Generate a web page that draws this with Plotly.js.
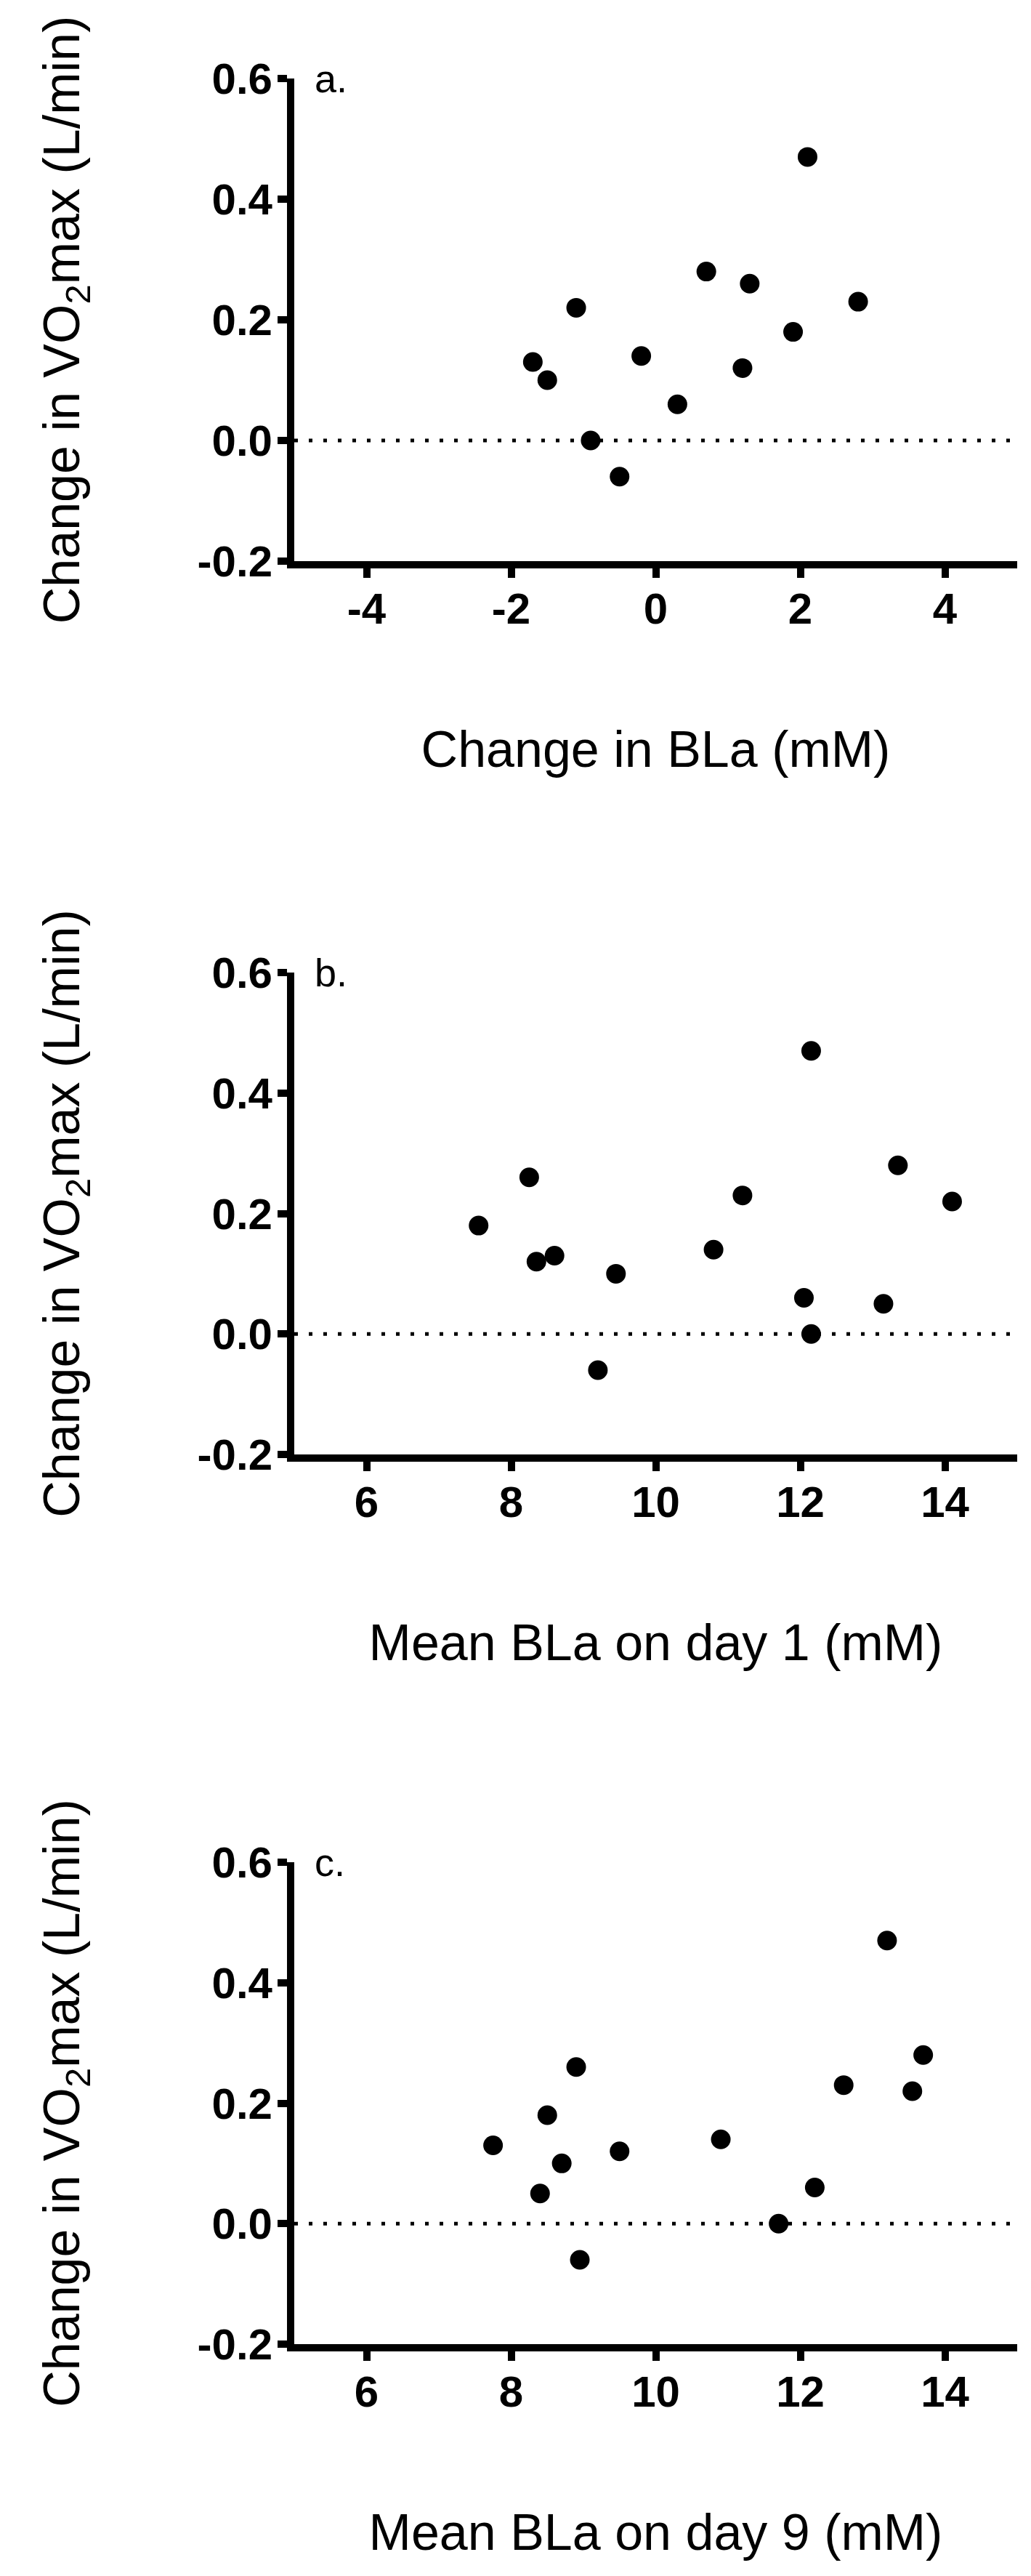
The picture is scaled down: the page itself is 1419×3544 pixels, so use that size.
<!DOCTYPE html>
<html>
<head>
<meta charset="utf-8">
<script src="https://cdn.plot.ly/plotly-3.0.1.min.js"></script>
<style>
    html, body { margin: 0; padding: 0; background: #ffffff; }
    #blac-plot { width: 1419px; height: 3544px; }
</style>
</head>
<body>
<div id="blac-plot"></div>
<script>
// ------------------------------------------------------------------------------
// DATA

// a. change in VO2max vs change in BLa
const a_change_bla = [-1.7, -1.5, -1.1, -0.9, -0.5, -0.2, 0.3, 0.7, 1.2, 1.3, 1.9, 2.1, 2.8];
const a_change_vo2 = [0.13, 0.10, 0.22, 0.00, -0.06, 0.14, 0.06, 0.28, 0.12, 0.26, 0.18, 0.47, 0.23];

// b. change in VO2max vs mean BLa on day 1
const b_mean_bla_d1 = [7.55, 8.25, 8.35, 8.6, 9.2, 9.45, 10.8, 11.2, 12.05, 12.15, 12.15, 13.15, 13.35, 14.1];
const b_change_vo2  = [0.18, 0.26, 0.12, 0.13, -0.06, 0.10, 0.14, 0.23, 0.06, 0.47, 0.00, 0.05, 0.28, 0.22];

// c. change in VO2max vs mean BLa on day 9
const c_mean_bla_d9 = [7.75, 8.4, 8.5, 8.7, 8.9, 8.95, 9.5, 10.9, 11.7, 12.2, 12.6, 13.2, 13.55, 13.7];
const c_change_vo2  = [0.13, 0.05, 0.18, 0.10, 0.26, -0.06, 0.12, 0.14, 0.00, 0.06, 0.23, 0.47, 0.22, 0.28];

const panel_letters = ['a.', 'b.', 'c.'];
const x_titles      = ['Change in BLa (mM)', 'Mean BLa on day 1 (mM)', 'Mean BLa on day 9 (mM)'];
const y_title       = 'Change in VO<sub>2</sub>max (L/min)';
const x_ranges      = [[-5, 5], [5, 15], [5, 15]];
const x_ticks       = [[-4, -2, 0, 2, 4], [6, 8, 10, 12, 14], [6, 8, 10, 12, 14]];
const x_ticklabels  = [['-4', '-2', '0', '2', '4'], ['6', '8', '10', '12', '14'], ['6', '8', '10', '12', '14']];
const y_ticks       = [-0.2, 0.0, 0.2, 0.4, 0.6];
const y_ticklabels  = ['-0.2', '0.0', '0.2', '0.4', '0.6'];


// ------------------------------------------------------------------------------
// STYLE

const font_family = '"Liberation Sans", Arial, Helvetica, sans-serif';
const x_domain    = [405 / 1419, 1400 / 1419];
const y_domains   = [
    [0.78217, 0.96953],
    [0.43538, 0.62246],
    [0.09001, 0.27709],
];

const displayConfig = {
    displayModeBar: false,
    responsive: false
};

function makeXAxis(i) {
    return {
        domain: x_domain,
        anchor: i === 0 ? 'y' : 'y' + (i + 1),
        range: x_ranges[i],
        tickmode: 'array',
        tickvals: x_ticks[i],
        ticktext: x_ticklabels[i],
        showgrid: false,
        zeroline: false,
        showline: true,
        linecolor: '#000000',
        linewidth: 10,
        ticks: 'outside',
        ticklen: 13,
        tickwidth: 10,
        tickcolor: '#000000',
        ticklabelstandoff: -9,
        tickfont: {
            family: font_family,
            size: 60,
            weight: 'bold',
            color: '#000000'
        },
        title: {
            text: x_titles[i],
            standoff: 140,
            font: {
                family: font_family,
                size: 70,
                color: '#000000'
            }
        }
    };
}

function makeYAxis(i) {
    return {
        domain: y_domains[i],
        anchor: i === 0 ? 'x' : 'x' + (i + 1),
        range: [-0.2, 0.6],
        tickmode: 'array',
        tickvals: y_ticks,
        ticktext: y_ticklabels,
        showgrid: false,
        zeroline: false,
        showline: true,
        linecolor: '#000000',
        linewidth: 10,
        ticks: 'outside',
        ticklen: 13,
        tickwidth: 10,
        tickcolor: '#000000',
        ticklabelstandoff: -5,
        tickfont: {
            family: font_family,
            size: 60,
            weight: 'bold',
            color: '#000000'
        },
        title: {
            text: y_title,
            standoff: 143,
            font: {
                family: font_family,
                size: 70,
                color: '#000000'
            }
        }
    };
}


// ------------------------------------------------------------------------------
// LAYOUT

let layout = {
    width: 1419,
    height: 3544,
    plot_bgcolor: '#ffffff',
    paper_bgcolor: '#ffffff',
    showlegend: false,
    margin: { l: 0, r: 0, t: 0, b: 0 },
    font: { family: font_family, color: '#000000' },
    shapes: [],
    annotations: []
};

for (let i = 0; i < 3; i++) {
    const sfx = i === 0 ? '' : String(i + 1);
    layout['xaxis' + sfx] = makeXAxis(i);
    layout['yaxis' + sfx] = makeYAxis(i);

    // dotted zero line
    layout.shapes.push({
        type: 'line',
        xref: 'x' + sfx,
        yref: 'y' + sfx,
        x0: x_ranges[i][0],
        x1: x_ranges[i][1],
        y0: 0,
        y1: 0,
        layer: 'below',
        line: {
            color: '#000000',
            width: 5,
            dash: '5px,15px'
        }
    });

    // panel letter
    layout.annotations.push({
        text: panel_letters[i],
        xref: 'paper',
        yref: 'y' + sfx,
        x: 431 / 1419,
        y: 0.6,
        xanchor: 'left',
        yanchor: 'middle',
        showarrow: false,
        font: {
            family: font_family,
            size: 54,
            color: '#000000'
        }
    });
}


// ------------------------------------------------------------------------------
// TRACES

const xs = [a_change_bla, b_mean_bla_d1, c_mean_bla_d9];
const ys = [a_change_vo2, b_change_vo2, c_change_vo2];

const traces = [];
for (let i = 0; i < 3; i++) {
    const sfx = i === 0 ? '' : String(i + 1);
    traces.push({
        x: xs[i],
        y: ys[i],
        xaxis: 'x' + sfx,
        yaxis: 'y' + sfx,
        type: 'scatter',
        mode: 'markers',
        cliponaxis: false,
        marker: {
            color: '#000000',
            size: 27,
            line: { width: 0 }
        },
        hoverinfo: 'none'
    });
}

Plotly.newPlot('blac-plot', traces, layout, displayConfig);
</script>
</body>
</html>
